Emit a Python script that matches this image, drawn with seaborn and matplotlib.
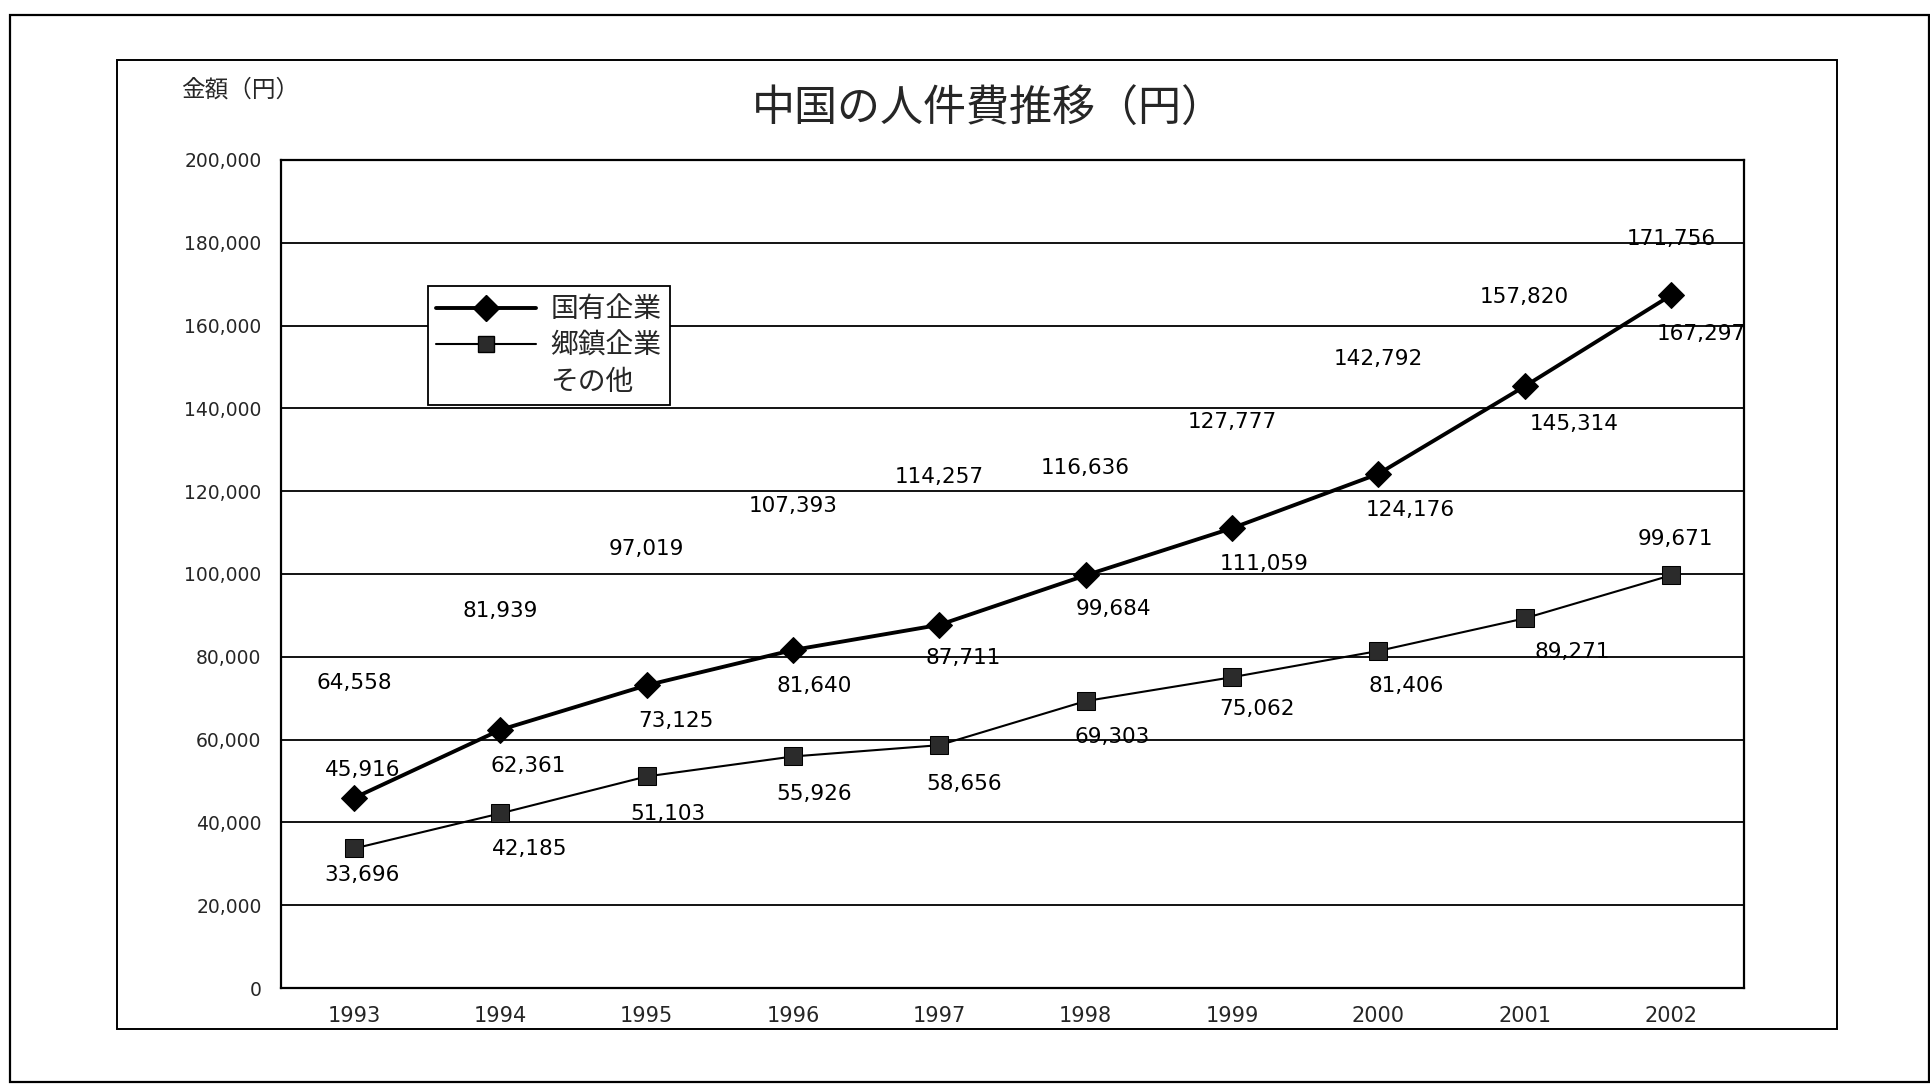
import matplotlib
matplotlib.use("Agg")
import matplotlib.pyplot as plt
from matplotlib.lines import Line2D
from matplotlib.patches import Rectangle
import seaborn as sns
import pandas as pd

# ---- data ----
years = [1993, 1994, 1995, 1996, 1997, 1998, 1999, 2000, 2001, 2002]
state_owned = [45916, 62361, 73125, 81640, 87711, 99684, 111059, 124176, 145314, 167297]
township = [33696, 42185, 51103, 55926, 58656, 69303, 75062, 81406, 89271, 99671]
others = [64558, 81939, 97019, 107393, 114257, 116636, 127777, 142792, 157820, 171756]
series_names = ["国有企業", "郷鎮企業", "その他"]
y_ticks = [0, 20000, 40000, 60000, 80000, 100000, 120000, 140000, 160000, 180000, 200000]

# label offsets in points (dx, dy) relative to each point
state_offsets = [(6, 20), (20, -26), (21, -26), (15, -26), (17, -24), (20, -24),
                 (23, -26), (23, -26), (36, -27), (22, -28)]
town_offsets = [(6, -19), (21, -26), (15, -27), (15, -27), (18, -28), (19, -26),
                (18, -23), (20, -25), (34, -24), (3, 26)]
other_offsets = [(0, 27)] * 10

sns.set_theme(style="white")
plt.rcParams["font.family"] = ["DejaVu Sans", "Noto Sans CJK JP"]
cjk = ["Noto Sans CJK JP", "DejaVu Sans"]

W, H = 1930, 1084
fig = plt.figure(figsize=(W / 100, H / 100), dpi=100)
fig.patch.set_facecolor("white")

# page frame and chart frame
fig.add_artist(Rectangle((10 / W, 1 - 1082 / H), (1929 - 10) / W, (1082 - 15) / H,
                         transform=fig.transFigure, fill=False, ec="black", lw=1.6))
fig.add_artist(Rectangle((117 / W, 1 - 1029 / H), (1837 - 117) / W, (1029 - 60) / H,
                         transform=fig.transFigure, fill=False, ec="black", lw=1.4))

left, right, top, bottom = 281, 1744, 160, 988
ax = fig.add_axes([left / W, 1 - bottom / H, (right - left) / W, (bottom - top) / H])
ax.set_facecolor("white")

df = pd.DataFrame({"year": years, "state": state_owned, "town": township})
sns.lineplot(data=df, x="year", y="state", ax=ax, color="black", lw=2.8,
             marker="D", markersize=13, markerfacecolor="black",
             markeredgecolor="black", zorder=4)
sns.lineplot(data=df, x="year", y="town", ax=ax, color="black", lw=1.5,
             marker="s", markersize=13, markerfacecolor="#2b2b2b",
             markeredgecolor="black", zorder=4)

ax.set_xlim(1992.5, 2002.5)
ax.set_ylim(0, 200000)
ax.set_yticks(y_ticks)
ax.set_yticklabels([f"{v:,}" for v in y_ticks], fontsize=13.5)
ax.set_xticks(years)
ax.set_xticklabels([str(y) for y in years], fontsize=15)
ax.set_xticks([y + 0.5 for y in years[:-1]], minor=True)
ax.tick_params(axis="x", which="major", length=0, pad=13)
ax.tick_params(axis="x", which="minor", length=8, direction="in", width=1.3, color="black")
ax.tick_params(axis="y", length=0, pad=14)
ax.set_xlabel("")
ax.set_ylabel("")
for y in y_ticks[1:-1]:
    ax.axhline(y, color="black", lw=1.3, zorder=1)
for s in ax.spines.values():
    s.set_color("black")
    s.set_linewidth(1.6)
    s.set_visible(True)

def add_labels(values, offsets):
    for x, v, (dx, dy) in zip(years, values, offsets):
        ax.annotate(f"{v:,}", (x, v), xytext=(dx, dy), textcoords="offset points",
                    ha="center", va="center", fontsize=15.5, color="black", zorder=5)

add_labels(state_owned, state_offsets)
add_labels(township, town_offsets)
add_labels(others, other_offsets)

# title and axis caption
fig.text(988 / W, 1 - 110 / H, "中国の人件費推移（円）", ha="center", va="center",
         fontsize=31, family=cjk)
fig.text(240 / W, 1 - 90 / H, "金額（円）", ha="center", va="center",
         fontsize=17, family=cjk)

handles = [
    Line2D([], [], color="black", lw=2.8, marker="D", markersize=13,
           markerfacecolor="black"),
    Line2D([], [], color="black", lw=1.5, marker="s", markersize=12,
           markerfacecolor="#2b2b2b", markeredgecolor="black"),
    Line2D([], [], color="none", lw=0),
]
leg = fig.legend(handles, series_names, loc="upper left",
                 bbox_to_anchor=(428 / W, 1 - 286 / H), borderaxespad=0,
                 frameon=True, fancybox=False, edgecolor="black", framealpha=1,
                 handlelength=3.6, handletextpad=0.5, labelspacing=0.22,
                 borderpad=0.3, prop={"family": cjk, "size": 20})
leg.get_frame().set_linewidth(1.3)

fig.savefig("out.png", dpi=100, facecolor="white")
